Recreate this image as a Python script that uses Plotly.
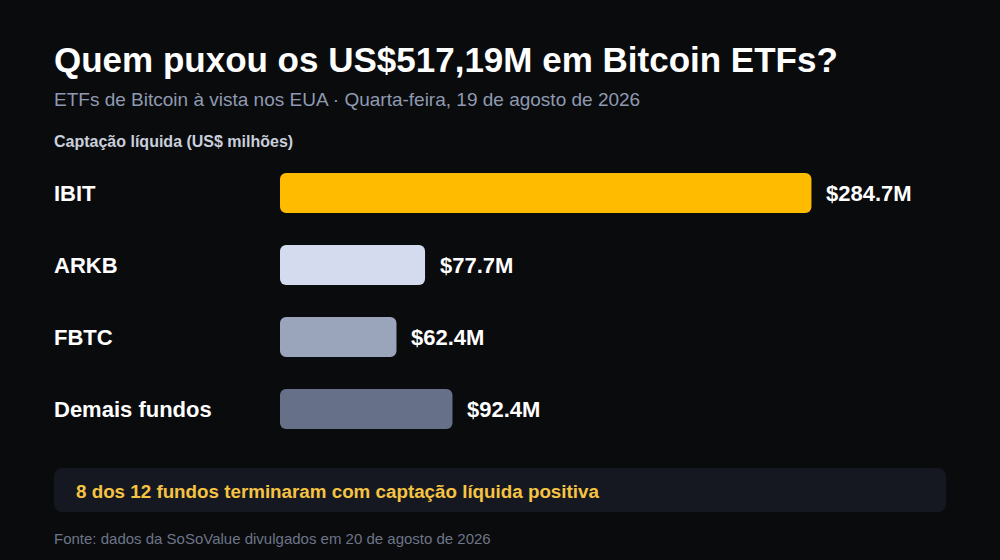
import plotly.graph_objects as go

# dados
fundos = ["IBIT", "ARKB", "FBTC", "Demais fundos"]
captacao = [284.7, 77.7, 62.4, 92.4]
rotulos = ["$284.7M", "$77.7M", "$62.4M", "$92.4M"]
cores = ["#ffbb00", "#d5dbef", "#9aa5bc", "#667189"]

titulo = "Quem puxou os US$517,19M em Bitcoin ETFs?"
subtitulo = "ETFs de Bitcoin à vista nos EUA · Quarta-feira, 19 de agosto de 2026"
eixo_titulo = "Captação líquida (US$ milhões)"
destaque = "8 dos 12 fundos terminaram com captação líquida positiva"
fonte = "Fonte: dados da SoSoValue divulgados em 20 de agosto de 2026"

W, H = 1000, 560
ML, MR, MT, MB = 280, 160, 157, 115
PW, PH = W - ML - MR, H - MT - MB
FONT = "Liberation Sans, Arial, sans-serif"
LARGURA = 40 / 72  # 40px de altura por barra, bordas em pixels inteiros


def px(x):
    return (x - ML) / PW


def py(y):
    return (H - MB - y) / PH


fig = go.Figure()

# cada barra em duas partes sobrepostas para arredondar os quatro cantos
fig.add_trace(go.Bar(
    y=fundos, x=[v * 0.6 for v in captacao], base=[v * 0.4 for v in captacao],
    orientation="h", marker=dict(color=cores, line=dict(width=0)),
    width=LARGURA, hoverinfo="skip",
))
fig.add_trace(go.Bar(
    y=fundos, x=[-v * 0.6 for v in captacao], base=[v * 0.6 for v in captacao],
    orientation="h", marker=dict(color=cores, line=dict(width=0)),
    width=LARGURA, hoverinfo="skip",
))

# nomes e valores
for f, v, r in zip(fundos, captacao, rotulos):
    fig.add_annotation(x=v, y=f, xref="x", yref="y", text=r, showarrow=False,
                       xanchor="left", yanchor="middle", xshift=13,
                       font=dict(size=22, color="#ffffff", family=FONT, weight="bold"))
    fig.add_annotation(x=px(52), y=f, xref="paper", yref="y", text=f, showarrow=False,
                       xanchor="left", yanchor="middle",
                       font=dict(size=22, color="#ffffff", family=FONT, weight="bold"))

textos = [
    (titulo, 59, 35, "#ffffff", "bold"),
    (subtitulo, 100, 19, "#8f9ab1", "normal"),
    (eixo_titulo, 141, 16, "#c9cfdc", "bold"),
    (fonte, 538, 15, "#6d7588", "normal"),
]
for t, y, s, c, w in textos:
    fig.add_annotation(x=px(52), y=py(y), xref="paper", yref="paper", text=t,
                       showarrow=False, xanchor="left", yanchor="middle",
                       font=dict(size=s, color=c, family=FONT, weight=w))

# caixa de destaque com cantos arredondados
x0, x1, y0, y1, r = 54, 946, 468, 512, 9
path = (f"M {px(x0 + r)},{py(y0)} L {px(x1 - r)},{py(y0)} Q {px(x1)},{py(y0)} {px(x1)},{py(y0 + r)} "
        f"L {px(x1)},{py(y1 - r)} Q {px(x1)},{py(y1)} {px(x1 - r)},{py(y1)} "
        f"L {px(x0 + r)},{py(y1)} Q {px(x0)},{py(y1)} {px(x0)},{py(y1 - r)} "
        f"L {px(x0)},{py(y0 + r)} Q {px(x0)},{py(y0)} {px(x0 + r)},{py(y0)} Z")
fig.add_shape(type="path", path=path, xref="paper", yref="paper",
              fillcolor="#151821", line=dict(width=0), layer="below")
fig.add_annotation(x=px(74), y=py(491), xref="paper", yref="paper", text=destaque,
                   showarrow=False, xanchor="left", yanchor="middle",
                   font=dict(size=18.8, color="#f6c343", family=FONT, weight="bold"))

fig.update_layout(
    width=W, height=H,
    margin=dict(l=ML, r=MR, t=MT, b=MB),
    paper_bgcolor="#0a0b0d", plot_bgcolor="#0a0b0d",
    barmode="overlay", barcornerradius=6, showlegend=False,
    xaxis=dict(range=[0, 300], visible=False, fixedrange=True),
    yaxis=dict(range=[3.5, -0.5], visible=False, categoryorder="array",
               categoryarray=fundos, fixedrange=True),
)

fig.write_html("out.html", config={"displayModeBar": False},
               post_script="document.body.style.margin='0';document.body.style.background='#0a0b0d';")
